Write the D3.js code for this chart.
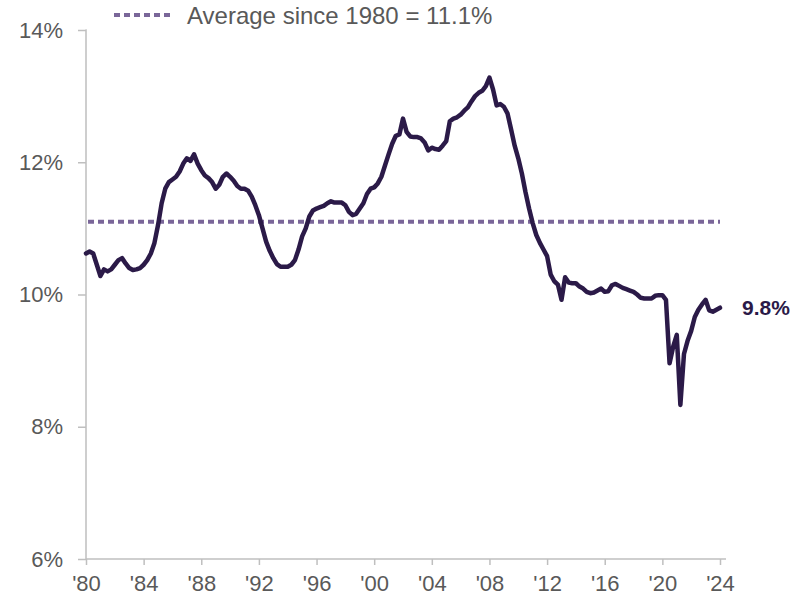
<!DOCTYPE html>
<html>
<head>
<meta charset="utf-8">
<script src="https://cdn.jsdelivr.net/npm/d3@7"></script>
<style>
  body { margin: 0; background: #fff; }
  #chart { width: 809px; height: 596px; }
  text { font-family: "Liberation Sans", Arial, sans-serif; }
  .axis path, .axis line { stroke: #bfbfbf; stroke-width: 1.5; }
  .axis text { fill: #595959; font-size: 22px; }
</style>
</head>
<body>
<div id="chart"></div>
<script>
// --- Data (quarterly, 1980Q1 .. 2024Q1) ---
const startYear = 1980;
const ratio = [
  10.62, 10.65, 10.62, 10.45, 10.28, 10.38, 10.35, 10.38, 10.45, 10.52,
  10.55, 10.47, 10.40, 10.37, 10.38, 10.40, 10.45, 10.52, 10.62, 10.78,
  11.05, 11.38, 11.60, 11.70, 11.74, 11.78, 11.86, 11.98, 12.06, 12.02,
  12.12, 11.98, 11.88, 11.80, 11.76, 11.70, 11.60, 11.66, 11.78, 11.83,
  11.78, 11.72, 11.64, 11.60, 11.60, 11.57, 11.48, 11.35, 11.20, 11.00,
  10.80, 10.66, 10.55, 10.46, 10.42, 10.42, 10.42, 10.45, 10.52, 10.68,
  10.88, 11.00, 11.18, 11.27, 11.30, 11.32, 11.34, 11.38, 11.41, 11.39,
  11.39, 11.39, 11.35, 11.25, 11.20, 11.22, 11.30, 11.38, 11.52, 11.60,
  11.62, 11.68, 11.78, 11.95, 12.12, 12.28, 12.40, 12.42, 12.66, 12.46,
  12.39, 12.38, 12.38, 12.36, 12.30, 12.18, 12.22, 12.20, 12.19, 12.25,
  12.32, 12.62, 12.66, 12.68, 12.72, 12.78, 12.83, 12.92, 13.00, 13.05,
  13.08, 13.15, 13.28, 13.10, 12.86, 12.88, 12.84, 12.74, 12.50, 12.25,
  12.06, 11.83, 11.55, 11.30, 11.08, 10.90, 10.78, 10.68, 10.58, 10.30,
  10.20, 10.15,  9.92, 10.26, 10.18, 10.17, 10.17, 10.12, 10.09, 10.04,
  10.02, 10.03, 10.06, 10.09, 10.04, 10.05, 10.14, 10.16, 10.13, 10.10,
  10.08, 10.06, 10.04, 10.00,  9.95,  9.94,  9.94,  9.94,  9.98,  9.99,
   9.99,  9.92,  8.96,  9.21,  9.39,  8.33,  9.10,  9.30,  9.45,  9.66,
   9.77,  9.85,  9.92,  9.76,  9.74,  9.77,  9.80
];
const average = 11.1;
const legendLabel = "Average since 1980 = 11.1%";
const lastLabel = "9.8%";
const yTicks = [6, 8, 10, 12, 14];
const xTicks = [1980, 1984, 1988, 1992, 1996, 2000, 2004, 2008, 2012, 2016, 2020, 2024];

const data = ratio.map((v, i) => ({ year: startYear + i / 4, value: v }));

// --- Setup ---
const width = 809, height = 596;
const margin = { top: 30, right: 89, bottom: 37, left: 86 };

const svg = d3.select("#chart").append("svg")
    .attr("width", width)
    .attr("height", height);

const x = d3.scaleLinear()
    .domain([1980, 2024])
    .range([margin.left, width - margin.right]);
const y = d3.scaleLinear()
    .domain([6, 14])
    .range([height - margin.bottom, margin.top]);

// --- Axes ---
const yAxisG = svg.append("g")
    .attr("class", "axis")
    .attr("transform", `translate(${margin.left},0)`)
    .call(d3.axisLeft(y).tickValues(yTicks).tickSize(8).tickPadding(15)
        .tickFormat(d => d + "%"))
    .call(g => g.select(".domain").attr("d", `M-0.5,${y(14)}H0V${y(6)}`));

const xAxisG = svg.append("g")
    .attr("class", "axis")
    .attr("transform", `translate(0,${y(6)})`)
    .call(d3.axisBottom(x).tickValues(xTicks).tickSize(6).tickPadding(10)
        .tickFormat(d => "'" + String(d).slice(2)))
    .call(g => g.select(".domain").attr("d", `M${x(1980)},0H${x(2024) + 6}`));

// --- Average line ---
const avgColor = "#7a6699";
svg.append("line")
    .attr("x1", x(1980) + 2).attr("x2", x(2024))
    .attr("y1", y(average)).attr("y2", y(average))
    .attr("stroke", avgColor)
    .attr("stroke-width", 4)
    .attr("stroke-dasharray", "6 4");

// --- Series ---
const lineColor = "#2b1a48";
const line = d3.line()
    .x(d => x(d.year))
    .y(d => y(d.value));

svg.append("path")
    .datum(data)
    .attr("fill", "none")
    .attr("stroke", lineColor)
    .attr("stroke-width", 4.5)
    .attr("stroke-linejoin", "round")
    .attr("stroke-linecap", "round")
    .attr("d", line);

const last = data[data.length - 1];
svg.append("text")
    .attr("x", x(last.year) + 22)
    .attr("y", y(last.value))
    .attr("dy", "0.35em")
    .attr("fill", lineColor)
    .attr("font-size", 21)
    .attr("font-weight", "bold")
    .text(lastLabel);

// --- Legend ---
svg.append("line")
    .attr("x1", 114).attr("x2", 173)
    .attr("y1", 15).attr("y2", 15)
    .attr("stroke", avgColor)
    .attr("stroke-width", 4)
    .attr("stroke-dasharray", "6 4");

svg.append("text")
    .attr("x", 187)
    .attr("y", 24)
    .attr("fill", "#595959")
    .attr("font-size", 24)
    .text(legendLabel);
</script>
</body>
</html>
